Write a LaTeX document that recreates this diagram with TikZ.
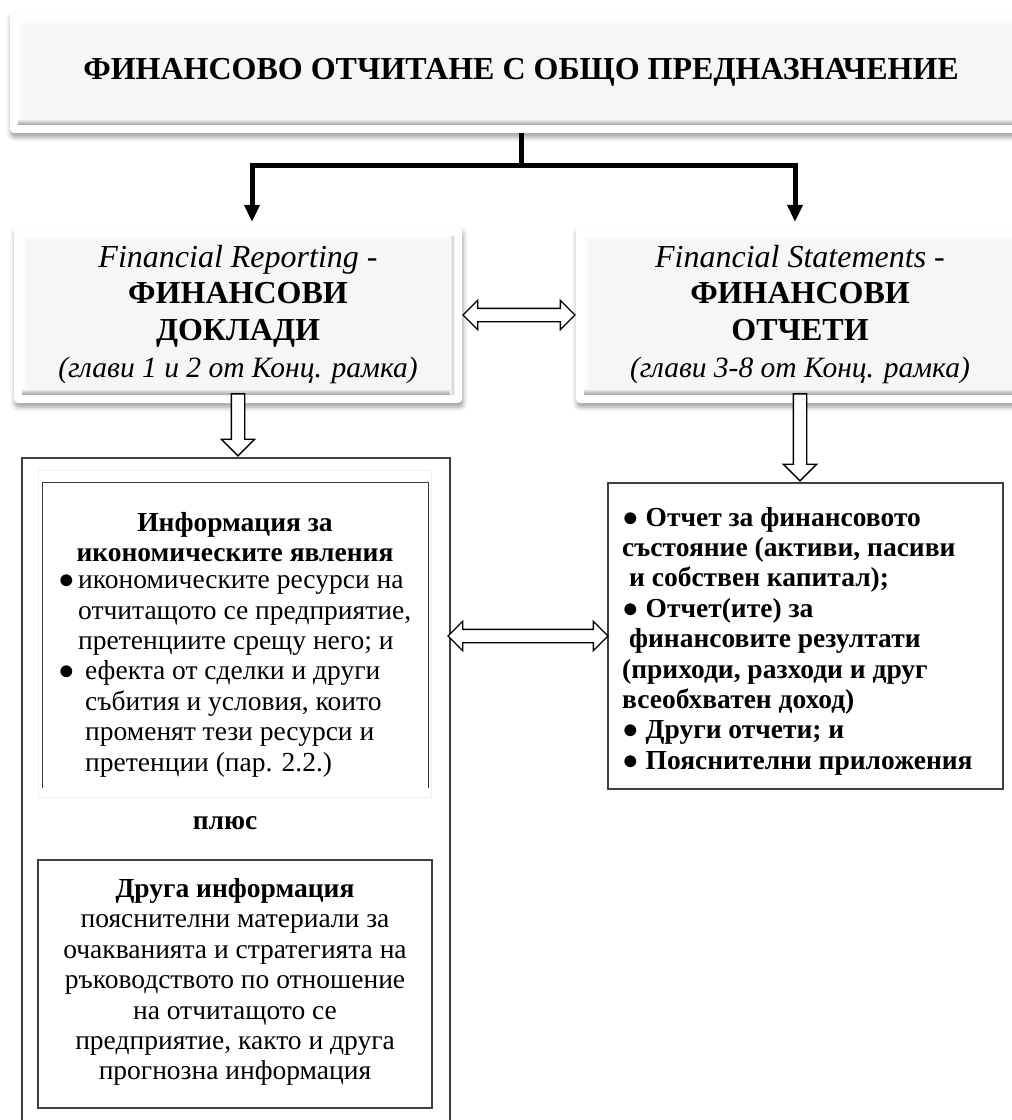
\documentclass[tikz,border=0pt]{standalone}
\usepackage{fontspec}
\setmainfont{Liberation Serif}
\usetikzlibrary{positioning, calc, arrows.meta, shapes.arrows, shadows.blur}

\tikzset{
  bevelbox/.style={fill=white, rounded corners=4pt, inner sep=0pt, align=center,
    blur shadow={shadow xshift=1pt, shadow yshift=-4pt, shadow blur radius=5pt, shadow opacity=40},
    path picture={
      \coordinate (bnw) at ([shift={(8pt,-9pt)}]path picture bounding box.north west);
      \coordinate (bse) at ([shift={(-8pt,9pt)}]path picture bounding box.south east);
      \fill[gray!7, sharp corners] (bnw) rectangle (bse);
      \shade[sharp corners, left color=white, right color=gray!7] (bnw) rectangle ($(bnw |- bse)+(5pt,0pt)$);
      \shade[sharp corners, top color=white, bottom color=gray!7] (bnw) rectangle ($(bse |- bnw)+(0pt,-4pt)$);
      \shade[sharp corners, top color=gray!7, bottom color=gray!65] ($(bnw |- bse)+(0pt,5pt)$) rectangle (bse);
      \shade[sharp corners, left color=gray!7, right color=gray!45] ($(bse |- bnw)+(-4pt,0pt)$) rectangle (bse);
    }},
  trunk/.style={line width=5pt, >={Triangle[length=17pt, width=15pt]}},
  hollowdown/.style={single arrow, draw, fill=white, line width=1.3pt, rotate=-90, anchor=tail,
    inner sep=6pt, single arrow head extend=10pt},
  hollowboth/.style={double arrow, draw, fill=white, line width=1.3pt, inner sep=6pt,
    double arrow head extend=8pt},
  plainbox/.style={draw=black!75, line width=1.2pt, inner sep=0pt},
  boldtext/.style={font=\fontsize{27.5pt}{30.4pt}\selectfont\bfseries},
  chapters/.style={font=\fontsize{29.5pt}{36.7pt}\selectfont\itshape},
}

\begin{document}
\begin{tikzpicture}[x=1pt, y=-1pt, font=\fontsize{27.5pt}{30.4pt}\selectfont]
\useasboundingbox (0,0) rectangle (1012,1120);

\node[bevelbox, minimum width=1022pt, minimum height=121pt, font=\fontsize{32pt}{38pt}\selectfont\bfseries] (gp) at (521,72.5)
  {ФИНАНСОВО ОТЧИТАНЕ С ОБЩО ПРЕДНАЗНАЧЕНИЕ};

\node[bevelbox, minimum width=448pt, minimum height=176pt, font=\fontsize{32pt}{36.7pt}\selectfont] (rep) at (238,315)
  {\raisebox{-7pt}{\begin{tabular}{@{}c@{}}\textit{Financial Reporting -}\\ \textbf{ФИНАНСОВИ}\\ \textbf{ДОКЛАДИ}\\
   {\fontsize{29.5pt}{36.7pt}\selectfont\itshape (глави 1 и 2 от Конц. рамка)}\end{tabular}}};
\node[bevelbox, minimum width=448pt, minimum height=176pt, font=\fontsize{32pt}{36.7pt}\selectfont] (stm) at (800,315)
  {\raisebox{-7pt}{\begin{tabular}{@{}c@{}}\textit{Financial Statements -}\\ \textbf{ФИНАНСОВИ}\\ \textbf{ОТЧЕТИ}\\
   {\fontsize{29.5pt}{36.7pt}\selectfont\itshape (глави 3-8 от Конц. рамка)}\end{tabular}}};

\coordinate (jn) at (521,165);
\coordinate (jl) at (252,165);
\coordinate (jr) at (795,165);
\draw[trunk] (gp.south) -- (jn);
\draw[trunk, <->, shorten <=5pt, shorten >=5pt] (jl |- rep.north) -- (jl) -- (jr) -- (jr |- stm.north);

\node[hollowboth, minimum height=112pt] (link1) at ($(rep.east)!.5!(stm.west)$) {};

\node[plainbox, minimum width=428pt, minimum height=680pt] (repbox) at (236,798) {};
\node[draw=gray!12, line width=1pt, minimum width=393pt, minimum height=327pt] (infobox) at (234.5,633.5) {};
\draw[gray!45!black, line width=1.5pt] ([shift={(5pt,10pt)}]infobox.south west) -- ([shift={(5pt,-13pt)}]infobox.north west)
  -- ([shift={(-3pt,-13pt)}]infobox.north east) -- ([shift={(-3pt,10pt)}]infobox.south east);
\node[boldtext, align=center] (infohead) at (235,537) {Информация за\\икономическите явления};
\node[align=left, anchor=west, inner sep=0pt] (infolist) at (58,676)
  {\makebox[20pt][l]{●}икономическите ресурси на\\
   \hspace*{20pt}отчитащото се предприятие,\\
   \hspace*{20pt}претенциите срещу него; и\\
   \makebox[27pt][l]{●}ефекта от сделки и други\\
   \hspace*{27pt}събития и условия, които\\
   \hspace*{27pt}променят тези ресурси и\\
   \hspace*{27pt}претенции (пар. 2.2.)};

\node[boldtext] (plus) at (225,823) {плюс};

\node[plainbox, minimum width=394pt, minimum height=248pt] (otherbox) at (235,984) {};
\node[align=center] (otherinfo) at (235,982)
  {\textbf{Друга информация}\\пояснителни материали за\\очакванията и стратегията на\\ръководството по отношение\\на отчитащото се\\предприятие, както и друга\\прогнозна информация};

\node[plainbox, minimum width=395pt, minimum height=306pt] (stmbox) at (805.5,636) {};
\node[boldtext, align=left, anchor=west, inner sep=0pt] (stmlist) at (622,641)
  {● Отчет за финансовото\\
   състояние (активи, пасиви\\
   \ и собствен капитал);\\
   ● Отчет(ите) за\\
   \ финансовите резултати\\
   (приходи, разходи и друг\\
   всеобхватен доход)\\
   ● Други отчети; и\\
   ● Пояснителни приложения};

\node[hollowdown, minimum height=62pt] (down1) at ([yshift=10pt]rep.south) {};
\node[hollowdown, minimum height=87pt] (down2) at ([yshift=10pt]stm.south) {};
\node[hollowboth, minimum height=160pt] (link2) at (528,636) {};
\end{tikzpicture}
\end{document}
